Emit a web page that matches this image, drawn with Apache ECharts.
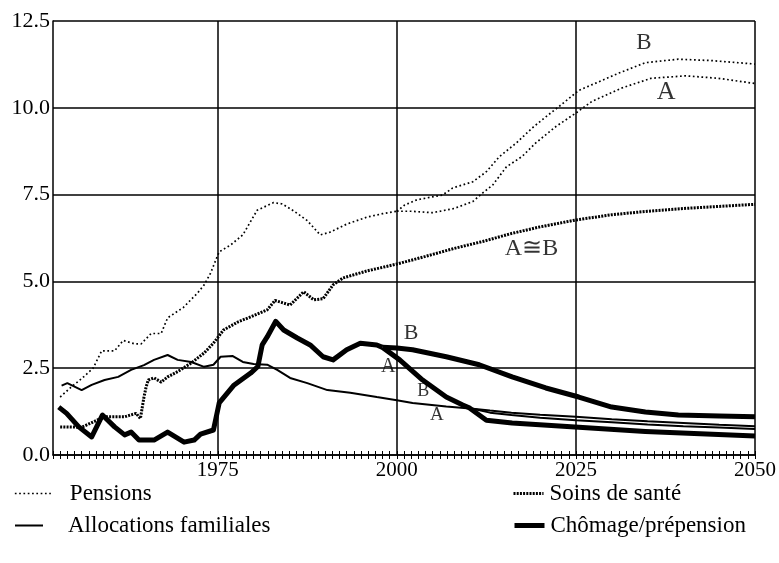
<!DOCTYPE html>
<html>
<head>
<meta charset="utf-8">
<script src="https://cdn.jsdelivr.net/npm/echarts@6/dist/echarts.min.js"></script>
<style>
  html, body { margin: 0; padding: 0; background: #fff; }
  #main { width: 779px; height: 563px; }
</style>
</head>
<body>
<div id="main"></div>
<script>
// Dépenses sociales en % du PIB, 1953-2050, scénarios A et B

var gridYears = [1975, 2000, 2025, 2050];
var yTicks = [0, 2.5, 5, 7.5, 10, 12.5];

// Pensions (historique puis scénarios A / B)
var pensionYears = [1953, 1954.5, 1956, 1957.6, 1958.8, 1960.6, 1961.8, 1963.4, 1964.3, 1965.7, 1967.1, 1968, 1970.2, 1972.2, 1973.1, 1974, 1974.7, 1975.2, 1976.8, 1978.5, 1980.5, 1982.8, 1984, 1985.6, 1987.5, 1989.3, 1990.7, 1993, 1995.8, 1998, 2000];
var pensionValues = [1.67, 1.95, 2.2, 2.5, 3.0, 3.0, 3.3, 3.2, 3.2, 3.5, 3.5, 3.95, 4.25, 4.67, 4.9, 5.24, 5.6, 5.85, 6.05, 6.34, 7.05, 7.27, 7.23, 7.03, 6.75, 6.34, 6.42, 6.65, 6.85, 6.95, 7.02];
var pensionAYears = [2000, 2002, 2005, 2008, 2010.6, 2012, 2013.4, 2015.3, 2017.5, 2019.4, 2022.2, 2025, 2027.2, 2031.4, 2035.5, 2040.3, 2044.9, 2050];
var pensionAValues = [7.02, 7.02, 6.98, 7.1, 7.3, 7.55, 7.78, 8.3, 8.6, 8.99, 9.46, 9.85, 10.18, 10.57, 10.85, 10.92, 10.85, 10.7];
var pensionBYears = [2000, 2001.1, 2002.8, 2006.4, 2007.8, 2010.6, 2012.5, 2014.3, 2016.7, 2018.9, 2020.8, 2022.6, 2025.4, 2028.2, 2031, 2034.7, 2039.3, 2043.9, 2050];
var pensionBValues = [7.02, 7.2, 7.35, 7.49, 7.69, 7.87, 8.16, 8.59, 8.99, 9.42, 9.74, 10.03, 10.5, 10.75, 11.0, 11.3, 11.4, 11.36, 11.26];

// Soins de santé (A ≅ B)
var santeYears = [1953, 1956, 1957.6, 1959.2, 1962, 1963.6, 1964.2, 1964.7, 1965, 1965.3, 1966.1, 1967.1, 1968, 1969.4, 1971.3, 1973.1, 1974.4, 1975.8, 1977.8, 1979.6, 1981.9, 1983, 1985.1, 1987, 1988.4, 1989.7, 1991.1, 1992.5, 1995.8, 2000, 2004, 2008, 2012, 2016, 2020, 2025, 2030, 2035, 2040, 2045, 2050];
var santeValues = [0.81, 0.8, 0.95, 1.1, 1.1, 1.2, 1.05, 1.67, 1.96, 2.16, 2.22, 2.1, 2.25, 2.4, 2.65, 2.94, 3.22, 3.6, 3.83, 3.98, 4.18, 4.45, 4.32, 4.7, 4.47, 4.5, 4.9, 5.1, 5.3, 5.5, 5.72, 5.95, 6.15, 6.38, 6.57, 6.77, 6.92, 7.02, 7.1, 7.16, 7.22];

// Allocations familiales
var allocYears = [1953.2, 1954, 1956, 1957.4, 1959.2, 1961.1, 1962.9, 1964.7, 1966.1, 1968, 1969.4, 1971.3, 1973.1, 1974.4, 1975.4, 1977.1, 1978.5, 1980, 1981.9, 1983.3, 1985.1, 1987.5, 1990.3, 1993.5, 1997.2, 2000, 2002.2, 2006.9, 2010.6];
var allocValues = [2.0, 2.07, 1.87, 2.02, 2.16, 2.25, 2.45, 2.59, 2.74, 2.88, 2.74, 2.68, 2.54, 2.6, 2.83, 2.85, 2.68, 2.62, 2.6, 2.45, 2.22, 2.07, 1.87, 1.79, 1.67, 1.58, 1.5, 1.4, 1.33];
var allocAYears = [2010.6, 2013, 2016, 2020, 2025, 2030, 2035, 2040, 2045, 2050];
var allocAValues = [1.33, 1.22, 1.15, 1.07, 1.0, 0.94, 0.88, 0.83, 0.79, 0.75];
var allocBYears = [2010.6, 2013, 2016, 2020, 2025, 2030, 2035, 2040, 2045, 2050];
var allocBValues = [1.33, 1.28, 1.22, 1.16, 1.1, 1.03, 0.97, 0.92, 0.87, 0.83];

// Chômage / prépension
var chomYears = [1952.8, 1953.9, 1955.6, 1957.4, 1958.9, 1960.6, 1962, 1962.9, 1964, 1966.1, 1968, 1970.3, 1971.7, 1972.6, 1974.4, 1975.2, 1977.2, 1979.6, 1980.6, 1981.2, 1981.9, 1983.1, 1984.2, 1986.1, 1987.9, 1989.7, 1991.1, 1993, 1994.9, 1997.2, 1998];
var chomValues = [1.38, 1.2, 0.81, 0.52, 1.15, 0.81, 0.58, 0.66, 0.43, 0.43, 0.66, 0.37, 0.43, 0.6, 0.72, 1.5, 2.0, 2.36, 2.55, 3.17, 3.4, 3.85, 3.6, 3.37, 3.17, 2.83, 2.74, 3.03, 3.22, 3.17, 3.1];
var chomAYears = [1998, 2000.4, 2003.6, 2006.9, 2009.2, 2010.1, 2012.5, 2016.1, 2025.4, 2034.7, 2050];
var chomAValues = [3.1, 2.74, 2.16, 1.67, 1.44, 1.36, 1.0, 0.92, 0.8, 0.68, 0.55];
var chomBYears = [1998, 2000, 2002.2, 2006.9, 2011.5, 2016.1, 2020.8, 2025.4, 2030, 2034.7, 2039.3, 2045, 2050];
var chomBValues = [3.1, 3.08, 3.03, 2.83, 2.6, 2.25, 1.93, 1.67, 1.38, 1.24, 1.15, 1.12, 1.1];

// Repères A / B sur les courbes
var noteYears = [2034.5, 2037.6, 2018.8, 2002, 1998.8, 2003.7, 2005.6];
var noteValues = [11.87, 10.46, 5.94, 3.5, 2.54, 1.84, 1.15];
var noteTexts = ['B', 'A', 'A\u2245B', 'B', 'A', 'B', 'A'];
var noteSizes = [23, 26, 24, 22, 20, 18, 19];

var FONT = "'Liberation Serif', 'Times New Roman', serif";

function pairs(xs, ys) {
	return xs.map(function(x, i) { return [x, ys[i]]; });
}

function lineSeries(name, xs, ys, style, z) {
	return {
		name: name,
		type: 'line',
		data: pairs(xs, ys),
		symbol: 'none',
		showSymbol: false,
		z: z,
		itemStyle: { color: '#000' },
		lineStyle: style,
		emphasis: { disabled: true },
		animation: false
	};
}

var myChart = echarts.init(document.getElementById('main'));

var pensionStyle = { color: '#000', width: 1.7, type: [1.7, 2.6] };
var santeStyle = { color: '#000', width: 3, type: [2, 1.2] };
var allocStyle = { color: '#000', width: 2 };
var chomStyle = { color: '#000', width: 5, join: 'round' };

var series = [
	lineSeries('Pensions', pensionYears, pensionValues, pensionStyle, 3),
	lineSeries('Pensions', pensionAYears, pensionAValues, pensionStyle, 3),
	lineSeries('Pensions', pensionBYears, pensionBValues, pensionStyle, 3),
	lineSeries('Soins de santé', santeYears, santeValues, santeStyle, 3),
	lineSeries('Allocations familiales', allocYears, allocValues, allocStyle, 4),
	lineSeries('Allocations familiales', allocAYears, allocAValues, allocStyle, 4),
	lineSeries('Allocations familiales', allocBYears, allocBValues, allocStyle, 4),
	lineSeries('Chômage/prépension', chomYears, chomValues, chomStyle, 5),
	lineSeries('Chômage/prépension', chomAYears, chomAValues, chomStyle, 5),
	lineSeries('Chômage/prépension', chomBYears, chomBValues, chomStyle, 5)
];

// lignes verticales de la grille
series[0].markLine = {
	silent: true,
	symbol: 'none',
	label: { show: false },
	lineStyle: { color: '#000', width: 1.5, type: 'solid' },
	data: gridYears.map(function(y) { return { xAxis: y }; })
};

series.push({
	type: 'scatter',
	symbolSize: 0,
	z: 6,
	silent: true,
	animation: false,
	data: noteYears.map(function(y, i) {
		return {
			value: [y, noteValues[i]],
			label: { formatter: noteTexts[i], fontSize: noteSizes[i] }
		};
	}),
	label: {
		show: true,
		position: 'inside',
		color: '#000',
		fontFamily: FONT
	}
});

function legendAt(name, left, top, width, pad, lineStyle) {
	return {
		data: [name],
		left: left,
		top: top,
		itemWidth: width,
		itemHeight: 14,
		selectedMode: false,
		itemStyle: { opacity: 0 },
		lineStyle: lineStyle,
		textStyle: { fontFamily: FONT, fontSize: 23, color: '#000', padding: [0, 0, 0, pad] }
	};
}

var option = {
	backgroundColor: '#fff',
	animation: false,
	grid: { left: 53, right: 21, top: 21, bottom: 108 },
	legend: [
		legendAt('Pensions', 9, 477, 36, 14, pensionStyle),
		legendAt('Allocations familiales', 9, 509, 28, 20, allocStyle),
		legendAt('Soins de santé', 507, 477, 30, 1, santeStyle),
		legendAt('Chômage/prépension', 507, 509, 30, 1, chomStyle)
	],
	xAxis: [{
		type: 'value',
		min: 1952,
		max: 2050,
		interval: 1,
		axisLine: { show: true, lineStyle: { color: '#000', width: 1.5 } },
		axisTick: { show: true, length: 4, lineStyle: { color: '#000', width: 1 } },
		splitLine: { show: false },
		axisLabel: {
			margin: 5,
			fontFamily: FONT,
			fontSize: 21,
			color: '#000',
			formatter: function(v) { return gridYears.indexOf(v) >= 0 ? String(v) : ''; }
		}
	}, {
		type: 'value',
		position: 'bottom',
		min: 1952,
		max: 2050,
		interval: 1,
		axisLine: { show: false },
		axisTick: { show: true, inside: true, length: 4, lineStyle: { color: '#000', width: 1 } },
		splitLine: { show: false },
		axisLabel: { show: false }
	}],
	yAxis: [{
		type: 'value',
		min: yTicks[0],
		max: yTicks[yTicks.length - 1],
		interval: 2.5,
		axisLine: { show: true, lineStyle: { color: '#000', width: 1.5 } },
		axisTick: { show: false },
		splitLine: { show: true, lineStyle: { color: '#000', width: 1.5 } },
		axisLabel: {
			margin: 3,
			fontFamily: FONT,
			fontSize: 22,
			color: '#000',
			padding: [0, 0, 8, 0],
			formatter: function(v) { return v.toFixed(1); }
		}
	}],
	series: series
};

myChart.setOption(option);
</script>
</body>
</html>
